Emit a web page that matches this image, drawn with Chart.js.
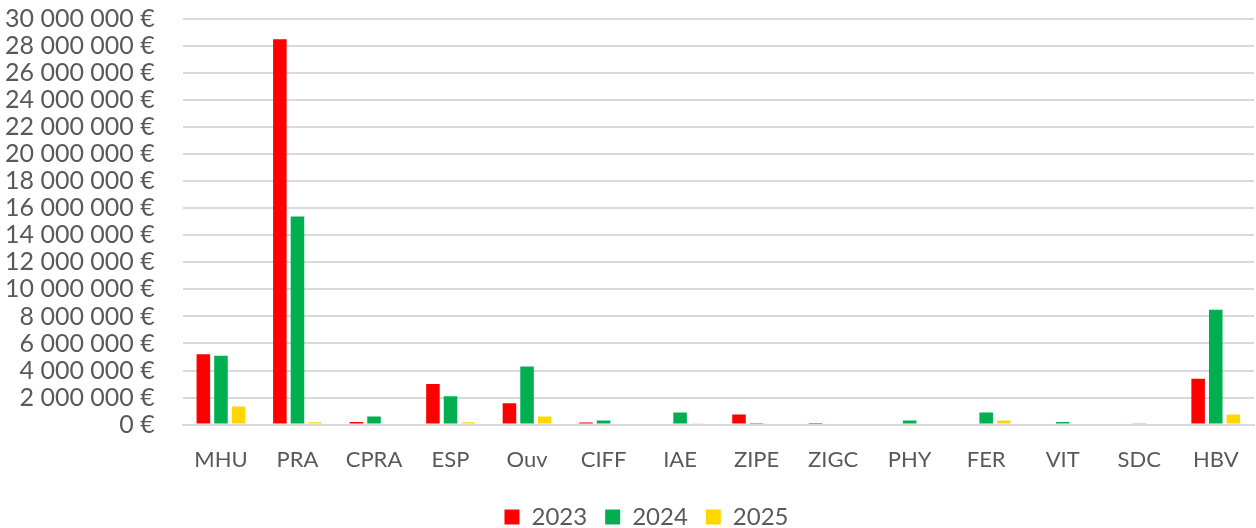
<!DOCTYPE html>
<html>
<head>
<meta charset="utf-8">
<script src="https://cdn.jsdelivr.net/npm/chart.js@4"></script>
<style>
  html, body { margin: 0; padding: 0; background: #ffffff; overflow: hidden; }
  #wrap { width: 1256px; height: 528px; overflow: hidden; position: relative; }
  #chart { position: absolute; left: 0; top: -24px; }
</style>
</head>
<body>
<div id="wrap"><canvas id="chart" width="1256" height="552"></canvas></div>
<script>
const categories = ['MHU', 'PRA', 'CPRA', 'ESP', 'Ouv', 'CIFF', 'IAE', 'ZIPE', 'ZIGC', 'PHY', 'FER', 'VIT', 'SDC', 'HBV'];
const values2023 = [5200000, 28500000, 200000, 3000000, 1580000, 150000, 0, 740000, 120000, 80000, 0, 0, 0, 3400000];
const values2024 = [5100000, 15400000, 600000, 2100000, 4300000, 300000, 900000, 50000, 0, 300000, 900000, 200000, 60000, 8500000];
const values2025 = [1330000, 170000, 80000, 170000, 600000, 0, 60000, 0, 0, 0, 300000, 0, 0, 750000];
const seriesLabels = ['2023', '2024', '2025'];

const textColor = '#595959';
const fontFamily = 'Lato, "Noto Sans", sans-serif';

function euro(v) {
    return String(Math.round(v)).replace(/\B(?=(\d{3})+(?!\d))/g, ' ') + ' €';
}

// legend is centred on the whole picture, not on the padded box
const legendShift = {
    id: 'legendShift',
    afterLayout(chart) {
        chart.legend.left += 31;
        chart.legend.right += 31;
    }
};

const ctx = document.getElementById('chart').getContext('2d');
const chart = new Chart(ctx, {
    type: 'bar',
    data: {
        labels: categories,
        datasets: [
            { label: seriesLabels[0], data: values2023, backgroundColor: '#FF0000' },
            { label: seriesLabels[1], data: values2024, backgroundColor: '#00B050' },
            { label: seriesLabels[2], data: values2025, backgroundColor: '#FFD700' }
        ]
    },
    plugins: [legendShift],
    options: {
        responsive: false,
        animation: false,
        categoryPercentage: 0.69,
        barPercentage: 0.77,
        layout: { padding: { top: -15, right: 2, left: -23, bottom: -11 } },
        plugins: {
            legend: {
                position: 'bottom',
                labels: {
                    color: textColor,
                    font: { family: fontFamily, size: 24 },
                    boxWidth: 15,
                    boxHeight: 15,
                    padding: 18
                }
            },
            tooltip: { enabled: false }
        },
        scales: {
            x: {
                grid: { display: false },
                border: { color: '#d9d9d9', width: 2 },
                ticks: {
                    color: textColor,
                    font: { family: fontFamily, size: 22 },
                    padding: 14,
                    maxRotation: 0,
                    autoSkip: false
                }
            },
            y: {
                min: 0,
                max: 30000000,
                grid: { color: '#d9d9d9', lineWidth: 2, drawTicks: false },
                border: { display: false },
                ticks: {
                    stepSize: 2000000,
                    autoSkip: false,
                    color: textColor,
                    font: { family: fontFamily, size: 25 },
                    padding: 28,
                    callback: (v) => euro(v)
                }
            }
        }
    }
});
</script>
</body>
</html>
